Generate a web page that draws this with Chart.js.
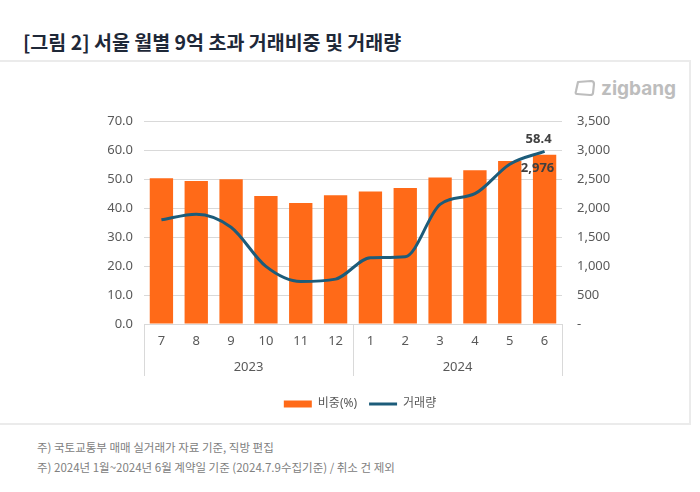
<!DOCTYPE html>
<html><head><meta charset="utf-8">
<script src="https://cdn.jsdelivr.net/npm/chart.js@4.4.1/dist/chart.umd.min.js"></script>
<style>
html,body{margin:0;padding:0;background:#fff;}
body{width:700px;height:492px;position:relative;overflow:hidden;font-family:"Noto Sans CJK KR","Noto Sans",sans-serif;}
#title{position:absolute;left:23px;top:27px;font-size:19.5px;font-weight:700;color:#1e2838;letter-spacing:0;white-space:nowrap;}
#box{position:absolute;left:-3px;top:60px;width:690px;height:361px;border:2px solid #ebebeb;}
#logo{position:absolute;left:574px;top:75px;height:26px;display:flex;align-items:center;color:#bdbdbd;font-family:Inter,"Noto Sans",sans-serif;font-weight:700;font-size:19px;}
#logo svg{margin-right:5px;}
.note{position:absolute;left:37px;font-size:11.5px;color:#808080;white-space:nowrap;}
#c{position:absolute;left:0;top:0;}
</style></head>
<body>
<div id="title">[그림 2] 서울 월별 9억 초과 거래비중 및 거래량</div>
<div id="box"></div>
<div id="logo"><svg width="22" height="18" viewBox="0 0 22 18"><path d="M4 3 L17 2 Q20 2 20 5 L19 14 Q19 16 16 16 L3 15 Q1 15 2 12 Z" fill="none" stroke="#bdbdbd" stroke-width="2.2" stroke-linejoin="round"/></svg>zigbang</div>
<div class="note" style="top:439px">주) 국토교통부 매매 실거래가 자료 기준, 직방 편집</div>
<div class="note" style="top:459px">주) 2024년 1월~2024년 6월 계약일 기준 (2024.7.9수집기준) / 취소 건 제외</div>
<canvas id="c" width="700" height="492"></canvas>
<script>
const months = ['7','8','9','10','11','12','1','2','3','4','5','6'];
const monthYears = ['2023','2023','2023','2023','2023','2023','2024','2024','2024','2024','2024','2024'];
const shareValues = [50.3, 49.3, 49.9, 44.1, 41.7, 44.4, 45.7, 46.9, 50.5, 53.0, 56.2, 58.4];
const volumeValues = [1797, 1894, 1669, 993, 733, 774, 1144, 1161, 2062, 2247, 2755, 2976];
const leftTicksMax = 70, leftStep = 10;
const rightTicksMax = 3500, rightStep = 500;

const ORANGE = '#FF6A18';
const NAVY = '#1C5C7A';
const GRID = '#d9d9d9';
const TICK = '#595959';
const FONT = '"Noto Sans","Noto Sans CJK KR",sans-serif';

const yearPlugin = {
  id: 'yearGroups',
  afterDraw(chart) {
    const x = chart.scales.x, ca = chart.chartArea, ctx = chart.ctx;
    const half = (x.getPixelForValue(1) - x.getPixelForValue(0)) / 2;
    const groups = [];
    monthYears.forEach((y, i) => {
      const g = groups[groups.length - 1];
      if (g && g.year === y) g.end = i; else groups.push({year: y, start: i, end: i});
    });
    ctx.save();
    ctx.strokeStyle = GRID; ctx.lineWidth = 1;
    const bounds = new Set();
    groups.forEach(g => { bounds.add(x.getPixelForValue(g.start) - half); bounds.add(x.getPixelForValue(g.end) + half); });
    bounds.forEach(b => {
      const bx = Math.round(b) + 0.5;
      ctx.beginPath(); ctx.moveTo(bx, ca.bottom); ctx.lineTo(bx, ca.bottom + 52); ctx.stroke();
    });
    ctx.fillStyle = TICK; ctx.font = '13px ' + FONT; ctx.textAlign = 'center'; ctx.textBaseline = 'middle';
    groups.forEach(g => {
      const cx = (x.getPixelForValue(g.start) + x.getPixelForValue(g.end)) / 2;
      ctx.fillText(g.year, cx, ca.bottom + 43);
    });
    const last = shareValues.length - 1;
    const barEl = chart.getDatasetMeta(0).data[last];
    const ptEl = chart.getDatasetMeta(1).data[last];
    ctx.fillStyle = '#404040'; ctx.font = 'bold 13px ' + FONT;
    ctx.textBaseline = 'alphabetic';
    ctx.fillText(shareValues[last].toFixed(1), barEl.x - 6, barEl.y - 12);
    ctx.textBaseline = 'top';
    ctx.fillText(volumeValues[last].toLocaleString('en-US'), ptEl.x - 7, ptEl.y + 10);
    ctx.restore();
  }
};

new Chart(document.getElementById('c'), {
  type: 'bar',
  data: {
    labels: months,
    datasets: [
      {type: 'bar', label: '비중(%)', data: shareValues, backgroundColor: ORANGE, borderWidth: 0,
       barPercentage: 0.67, categoryPercentage: 1, yAxisID: 'y', order: 2},
      {type: 'line', label: '거래량', data: volumeValues, borderColor: NAVY, backgroundColor: NAVY,
       borderWidth: 3, pointRadius: 0, cubicInterpolationMode: 'monotone', yAxisID: 'y1', order: 1}
    ]
  },
  options: {
    responsive: false, animation: false,
    layout: {padding: {top: 121, bottom: 72, left: 20, right: 0}},
    plugins: {
      tooltip: {enabled: false},
      legend: {
        position: 'bottom',
        labels: {usePointStyle: true, pointStyleWidth: 28, boxHeight: 7, padding: 12,
          color: TICK, font: {size: 12, family: FONT},
          generateLabels(chart) {
            const items = Chart.defaults.plugins.legend.labels.generateLabels(chart);
            items.sort((a, b) => a.datasetIndex - b.datasetIndex);
            items.forEach(it => {
              if (it.datasetIndex === 0) { it.pointStyle = 'rect'; it.lineWidth = 0; it.fillStyle = ORANGE; }
              else { it.pointStyle = 'line'; it.lineWidth = 3; it.strokeStyle = NAVY; }
            });
            return items;
          }
        }
      }
    },
    scales: {
      x: {
        grid: {display: false, drawTicks: false},
        border: {display: true, color: GRID},
        ticks: {color: TICK, font: {size: 13, family: FONT}, padding: 9, maxRotation: 0, autoSkip: false},
        afterFit(s) { s.height = 62; }
      },
      y: {
        position: 'left', min: 0, max: leftTicksMax,
        grid: {color: GRID, drawTicks: false},
        border: {display: false},
        ticks: {stepSize: leftStep, color: TICK, font: {size: 13, family: FONT}, padding: 11,
          callback: v => Number(v).toFixed(1)},
        afterFit(s) { s.width = 124; }
      },
      y1: {
        position: 'right', min: 0, max: rightTicksMax,
        grid: {display: false, drawTicks: false},
        border: {display: false},
        ticks: {stepSize: rightStep, color: TICK, font: {size: 13, family: FONT}, padding: 15,
          callback: v => v === 0 ? '-' : Number(v).toLocaleString('en-US')},
        afterFit(s) { s.width = 138; }
      }
    }
  },
  plugins: [yearPlugin]
});
</script>
</body></html>
